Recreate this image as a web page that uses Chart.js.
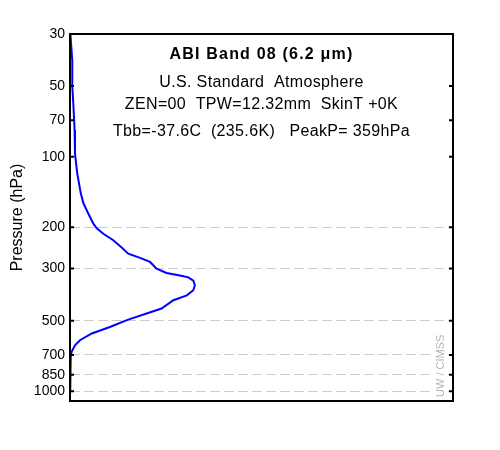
<!DOCTYPE html>
<html>
<head>
<meta charset="utf-8">
<script src="https://cdn.jsdelivr.net/npm/chart.js@4"></script>
<style>
  html, body { margin: 0; padding: 0; background: #fff; }
  #wrap { width: 500px; height: 450px; }
</style>
</head>
<body>
<div id="wrap"><canvas id="myChart" width="500" height="450"></canvas></div>
<script>
// weighting function (pressure in hPa, relative weight)
const pressureLevels = [30, 39, 50, 61, 77, 97, 118, 143, 158, 175, 193, 202, 213, 227, 244, 259, 270, 281, 300, 313, 321, 327, 338, 353, 371, 390, 409, 444, 466, 495, 532, 567, 606, 637, 680, 714, 838, 1013];
const weights = [0.001, 0.006, 0.006, 0.009, 0.012, 0.013, 0.019, 0.028, 0.035, 0.048, 0.061, 0.070, 0.087, 0.113, 0.135, 0.152, 0.183, 0.209, 0.226, 0.252, 0.287, 0.309, 0.322, 0.326, 0.322, 0.305, 0.270, 0.239, 0.200, 0.152, 0.104, 0.057, 0.026, 0.013, 0.004, 0.002, 0.001, 0.000];
const pressureTicks = [30, 50, 70, 100, 200, 300, 500, 700, 850, 1000];
const titleLines = [
  'ABI Band 08 (6.2 \u03bcm)',
  'U.S. Standard  Atmosphere',
  'ZEN=00  TPW=12.32mm  SkinT +0K',
  'Tbb=-37.6C  (235.6K)   PeakP= 359hPa'
];

{
  'use strict';

  const fontFamily = '"Liberation Sans", Arial, sans-serif';

  // frame, inward tick marks, header text and the credit
  const framePlugin = {
    id: 'frame',
    afterDraw: function(chart){
      const ctx = chart.ctx;
      const area = chart.chartArea;
      const yScale = chart.scales.y;

      ctx.save();
      ctx.strokeStyle = '#000';
      ctx.lineWidth = 2;
      ctx.strokeRect(area.left, area.top, area.right - area.left, area.bottom - area.top);

      for(let tick of yScale.ticks){
        const py = yScale.getPixelForValue(tick.value);
        if(Math.abs(py - area.top) < 2) continue;
        ctx.beginPath();
        ctx.moveTo(area.left, py);
        ctx.lineTo(area.left + 4, py);
        ctx.moveTo(area.right, py);
        ctx.lineTo(area.right - 4, py);
        ctx.stroke();
      }

      const cx = (area.left + area.right) / 2;
      ctx.fillStyle = '#000';
      ctx.textAlign = 'center';
      ctx.textBaseline = 'middle';
      ctx.font = 'bold 16px ' + fontFamily;
      ctx.letterSpacing = '1.2px';
      ctx.fillText(titleLines[0], cx, area.top + 20.5);
      ctx.font = '16px ' + fontFamily;
      ctx.letterSpacing = '0.35px';
      ctx.fillText(titleLines[1], cx, area.top + 48.5);
      ctx.fillText(titleLines[2], cx, area.top + 71);
      ctx.fillText(titleLines[3], cx, area.top + 97.5);
      ctx.letterSpacing = '0px';

      // credit, rotated in the lower right corner
      ctx.translate(area.right - 12, area.bottom - 4);
      ctx.rotate(-Math.PI / 2);
      ctx.font = '11px ' + fontFamily;
      const w = ctx.measureText('UW / CIMSS').width;
      ctx.fillStyle = '#fff';
      ctx.fillRect(-2, -7, w + 6, 14);
      ctx.fillStyle = '#b4b4b4';
      ctx.textAlign = 'left';
      ctx.fillText('UW / CIMSS', 0, 0);
      ctx.restore();
    }
  };

  const initChart = function(){
    const ctx = document.getElementById('myChart').getContext('2d');
    const points = pressureLevels.map((p, i) => ({ x: weights[i], y: p }));

    // eslint-disable-next-line no-undef, no-unused-vars
    const myChart = new Chart(ctx, {
      type: 'line',
      data: {
        datasets: [
          {
            data: points,
            borderColor: '#0000ff',
            borderWidth: 2,
            pointRadius: 0,
            tension: 0,
            fill: false,
          }
        ]
      },
      options: {
        responsive: false,
        animation: false,
        layout: {
          padding: { top: 34, right: 47, bottom: 49, left: 0 },
        },
        scales: {
          x: {
            type: 'linear',
            display: false,
            min: 0,
            max: 1,
          },
          y: {
            type: 'logarithmic',
            reverse: true,
            min: 30,
            max: 1100,
            afterBuildTicks: function(scale){
              scale.ticks = pressureTicks.map(v => ({ value: v }));
            },
            afterFit: function(scale){
              scale.width = 70;
            },
            ticks: {
              autoSkip: false,
              padding: 5,
              color: '#000',
              font: { family: fontFamily, size: 14 },
              callback: function(value){
                return String(value);
              },
            },
            grid: {
              drawTicks: false,
              lineWidth: 1,
              color: function(context){
                return context.tick && context.tick.value >= 200 ? '#cccccc' : 'rgba(0,0,0,0)';
              },
            },
            border: {
              display: false,
              dash: [10, 4],
            },
            title: {
              display: true,
              text: 'Pressure (hPa)',
              color: '#000',
              font: { family: fontFamily, size: 16 },
              padding: { top: 8, bottom: 0 },
            },
          }
        },
        plugins: {
          legend: { display: false },
          tooltip: { enabled: false },
        },
      },
      plugins: [framePlugin],
    });
  };

  initChart();
}
</script>
</body>
</html>
